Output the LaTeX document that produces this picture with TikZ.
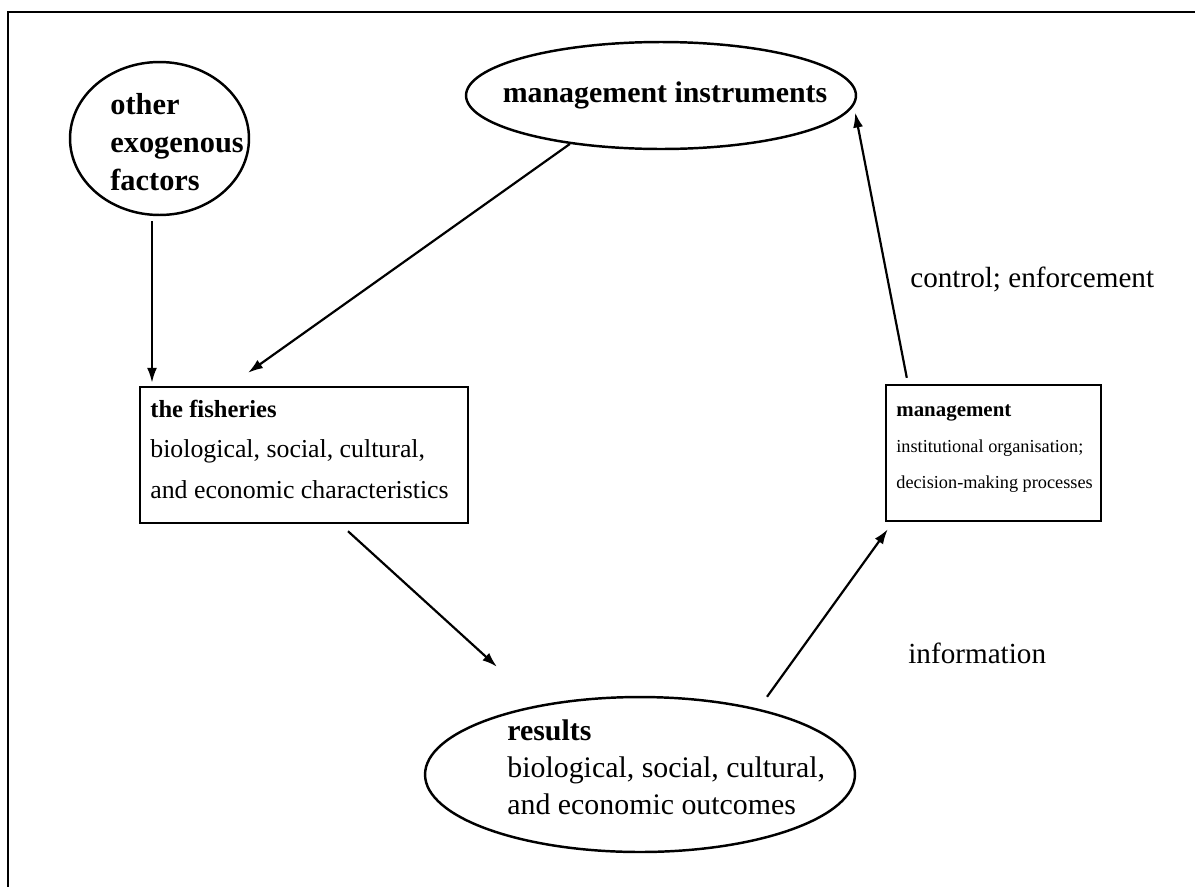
\documentclass[tikz,border=0pt]{standalone}
\usepackage{fontspec}
\setmainfont{Liberation Serif}
\usetikzlibrary{arrows.meta,calc,shapes.geometric}
\begin{document}
\begin{tikzpicture}[x=0.02cm,y=-0.02cm,
  shapeline/.style={draw,line width=1.4pt,inner sep=0pt},
  oval/.style={shapeline,ellipse},
  boxnode/.style={shapeline,rectangle},
  flow/.style={line width=1.25pt,-{Latex[length=0.3cm,width=0.2cm]}},
  txt/.style={inner sep=0pt,anchor=base west,align=left},
]
\useasboundingbox (0,0) rectangle (1195,886);
% outer frame (top and left edges)
\draw[line width=1.4pt] (8,900) -- (8,12) -- (1210,12);

% shapes
\node[oval,minimum width=3.58cm,minimum height=3.06cm] (exo) at (159.5,138.5) {};
\node[oval,minimum width=7.8cm,minimum height=2.14cm] (mi) at (661,95.5) {};
\node[boxnode,minimum width=6.56cm,minimum height=2.72cm] (fish) at (304,455) {};
\node[boxnode,minimum width=4.3cm,minimum height=2.72cm] (mg) at (993.5,453) {};
\node[oval,minimum width=8.6cm,minimum height=3.1cm] (res) at (640,774.5) {};

% texts (positioned at the baseline of their last line)
\node[txt,font=\fontsize{17.3}{21.5}\selectfont\bfseries] (exoT) at (110,190)
  {other\\exogenous\\factors};
\node[inner sep=0pt,anchor=base,font=\fontsize{17}{20}\selectfont\bfseries] (miT) at (665,102)
  {management instruments};
\node[txt,font=\fontsize{14.7}{23}\selectfont] (fishT) at (150,498)
  {{\fontsize{14}{23}\selectfont\bfseries the fisheries}\\
   biological, social, cultural,\\
   and economic characteristics};
\node[txt,font=\fontsize{10.4}{20.4}\selectfont] (mgT) at (896,488)
  {{\fontsize{11.9}{20.4}\selectfont\bfseries management}\\
   institutional organisation;\\
   decision-making processes};
\node[txt,font=\fontsize{17}{21}\selectfont] (resT) at (507,814)
  {\textbf{results}\\
   biological, social, cultural,\\
   and economic outcomes};
\node[txt,font=\fontsize{16.6}{20}\selectfont] (ctrl) at (910,287) {control; enforcement};
\node[txt,font=\fontsize{16.6}{20}\selectfont] (info) at (908,663) {information};

% connectors
\draw[flow,shorten >=0.06cm] ($(exo.south)+(-7.5,5)$) coordinate (a1s) -- (a1s |- fish.north);
\draw[flow] (mi.208) -- ($(fish.north)+(-56,-13)$);
\draw[flow] ($(mg.north west)+(22,-6)$) -- ($(mi.east)+(-2,17)$);
\draw[flow] ($(fish.south)+(44,7)$) -- ($(res.north)+(-143,-29)$);
\draw[flow] ($(res.north)+(127,1)$) -- ($(mg.south west)+(3,7)$);
\end{tikzpicture}
\end{document}
